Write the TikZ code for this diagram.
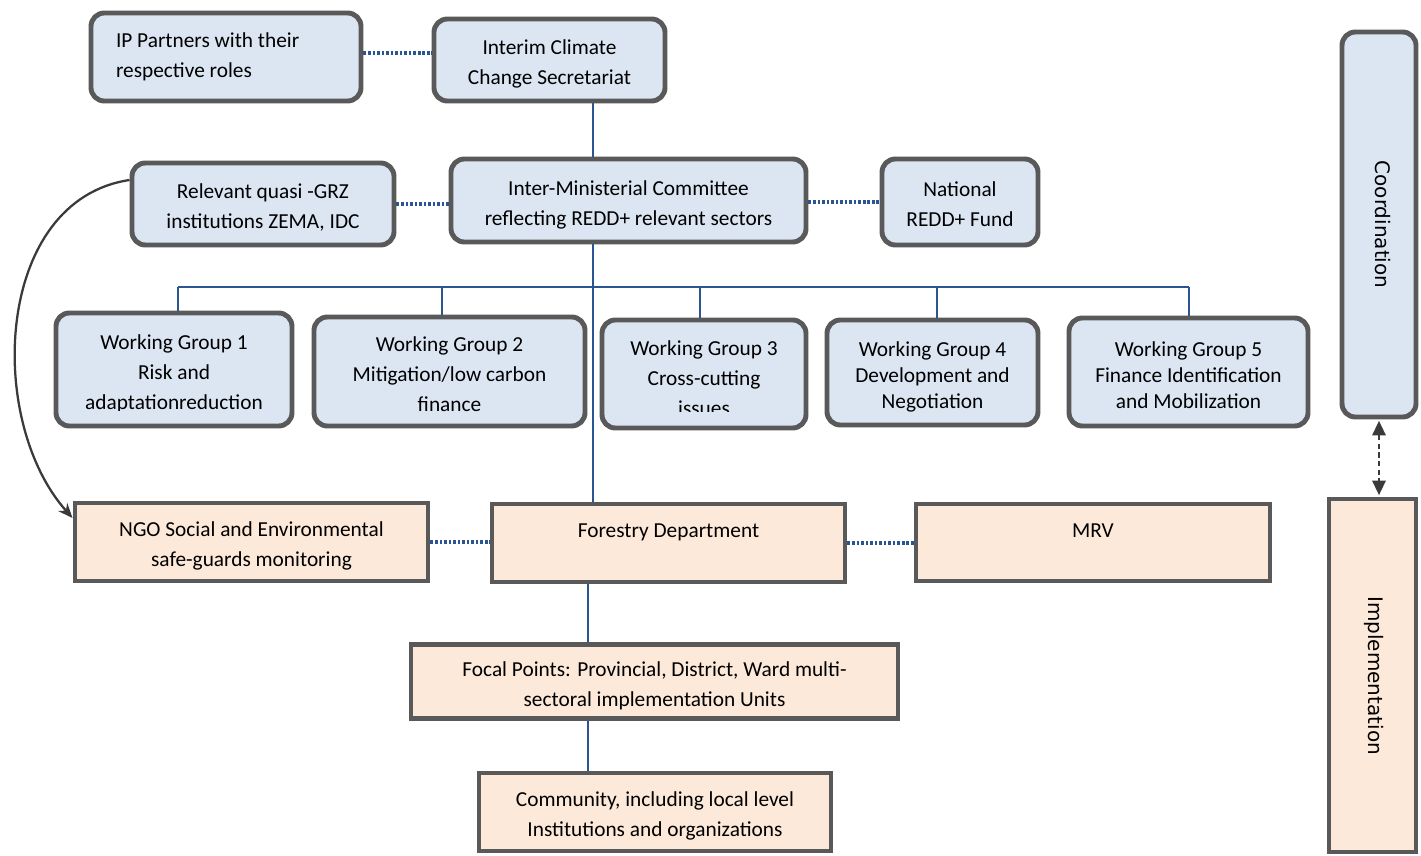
\documentclass[tikz,border=0pt]{standalone}
\usepackage{fontspec}
\setmainfont{Carlito}
\newfontfamily\sidefont{DejaVu Sans}
\usetikzlibrary{arrows.meta,calc}
\definecolor{bfill}{HTML}{DCE6F2}
\definecolor{pfill}{HTML}{FDE9D9}
\definecolor{bord}{HTML}{595959}
\definecolor{lblue}{HTML}{2A5590}
\definecolor{agray}{HTML}{3A3A3A}
\newcommand\topstrut{\rule{0pt}{21pt}}
\newcommand\botstrut{\rule[\dimexpr-0.3\baselineskip\relax]{0pt}{\dimexpr0.3\baselineskip\relax}}
\tikzset{
  txt/.style={align=center, inner sep=0pt, font=\fontsize{16}{22.5}\selectfont,
    execute at end node=\botstrut},
  bbox/.style={txt, draw=bord, line width=3.7pt, fill=bfill, rounded corners=10pt},
  pbox/.style={txt, draw=bord, line width=3.7pt, fill=pfill},
  conn/.style={draw=lblue, line width=2pt},
  dotc/.style={draw=lblue, line width=2.3pt, dash pattern=on 2pt off 1.4pt},
  curvearrow/.style={draw=agray, line width=1.7pt, -{Stealth[length=11pt,width=9pt]}},
  dasharrow/.style={draw=agray, line width=1.7pt, dash pattern=on 4pt off 2.5pt,
    {Triangle[length=11pt,width=10pt]}-{Triangle[length=11pt,width=10pt]}},
  sidetxt/.style={font=\sidefont\fontsize{15}{18}\selectfont, execute at end node={}}
}
\begin{document}
\begin{tikzpicture}[x=0.75pt,y=-0.75pt]
\useasboundingbox (0,0) rectangle (1421,856);

% top row
\node[bbox, minimum width=202.5pt, minimum height=66pt, text width=165pt, align=flush left, inner xsep=18.75pt, execute at begin node=\strut] (ip) at (226,57) {IP Partners with their\\respective roles};
\node[bbox, minimum width=173.25pt, minimum height=61.5pt] (interim) at (549.5,60) {\topstrut Interim Climate\\Change Secretariat};

% second row
\node[bbox, minimum width=196.5pt, minimum height=61.5pt] (quasi) at (263,204) {\topstrut Relevant quasi -GRZ\\institutions ZEMA, IDC};
\node[bbox, minimum width=266.25pt, minimum height=62.25pt] (imc) at (628.5,200.5) {\topstrut Inter-Ministerial Committee\\reflecting REDD+ relevant sectors};
\node[bbox, minimum width=117pt, minimum height=64.5pt] (national) at (960,202) {\topstrut National\\REDD+ Fund};

% working groups
\node[bbox, minimum width=177pt, minimum height=84.75pt] (wg1) at (174,369.5) {};
\node[bbox, minimum width=203.25pt, minimum height=81.75pt] (wg2) at (449.5,371.5) {};
\node[bbox, minimum width=153pt, minimum height=81pt] (wg3) at (704,374) {};
\begin{scope}
  \clip (57,314) rectangle (291,410);
  \node[txt] (wg1t) at (174,370) {\topstrut Working Group 1\\Risk and\\adaptationreduction};
\end{scope}
\begin{scope}
  \clip (315,318) rectangle (584,411);
  \node[txt] (wg2t) at (449.5,372) {\topstrut Working Group 2\\Mitigation/low carbon\\finance};
\end{scope}
\begin{scope}
  \clip (603,321) rectangle (805,411.5);
  \node[txt] (wg3t) at (704,376) {\topstrut Working Group 3\\Cross-cutting\\issues};
\end{scope}
\node[bbox, minimum width=158.25pt, minimum height=78.75pt, font=\fontsize{16}{19.5}\selectfont] (wg4) at (932.5,372.5) {\topstrut Working Group 4\\Development and\\Negotiation};
\node[bbox, minimum width=179.25pt, minimum height=81pt, font=\fontsize{16}{19.5}\selectfont] (wg5) at (1188.5,372) {\topstrut Working Group 5\\Finance Identification\\and Mobilization};

% implementation row
\node[pbox, minimum width=264.75pt, minimum height=58.5pt] (ngo) at (251.5,542) {\topstrut NGO Social and Environmental\\safe-guards monitoring};
\node[pbox, minimum width=264.75pt, minimum height=58.5pt] (forestry) at (668.5,543) {\topstrut Forestry Department\\[0pt]\mbox{}};
\node[pbox, minimum width=265.5pt, minimum height=57.75pt] (mrv) at (1093,542.5) {\topstrut MRV\\[0pt]\mbox{}};
\node[pbox, minimum width=365.25pt, minimum height=56pt] (focal) at (654.5,681.5) {\topstrut Focal Points: Provincial, District, Ward multi-\\sectoral implementation Units};
\node[pbox, minimum width=264pt, minimum height=58.5pt] (community) at (655,812) {\topstrut Community, including local level\\Institutions and organizations};

% side bars
\node[bbox, sidetxt, rotate=-90, minimum width=288.75pt, minimum height=55.5pt] (coord) at (1379,224.5) {Coordination};
\node[pbox, sidetxt, rotate=-90, minimum width=264.75pt, minimum height=65.25pt] (impl) at (1372.5,675.5) {Implementation};

% trunk and bus coordinates
\coordinate (trunk) at (593,0);
\coordinate (low) at (588,0);
\coordinate (d1) at (178,287);
\coordinate (d2) at (442,287);
\coordinate (d3) at (700,287);
\coordinate (d4) at (937,287);
\coordinate (d5) at (1189,287);

% solid connectors
\draw[conn] (interim.south -| trunk) -- (imc.north -| trunk);
\draw[conn] (imc.south -| trunk) -- (forestry.north -| trunk);
\draw[conn] (d1) -- (d5);
\draw[conn] (d1) -- (d1 |- wg1.north);
\draw[conn] (d2) -- (d2 |- wg2.north);
\draw[conn] (d3) -- (d3 |- wg3.north);
\draw[conn] (d4) -- (d4 |- wg4.north);
\draw[conn] (d5) -- (d5 |- wg5.north);
\draw[conn] (forestry.south -| low) -- (focal.north -| low);
\draw[conn] (focal.south -| low) -- (community.north -| low);

% dotted connectors
\coordinate (y1) at (0,53);
\draw[dotc] (ip.east |- y1) -- (interim.west |- y1);
\draw[dotc] (quasi.east) -- (quasi.east -| imc.west);
\draw[dotc] (imc.east |- national.west) -- (national.west);
\draw[dotc] (ngo.east) -- (ngo.east -| forestry.west);
\draw[dotc] (forestry.east) -- (forestry.east -| mrv.west);

% curved arrow
\draw[curvearrow] ($(quasi.west)+(0,-24)$) .. controls (-5,200) and (-15,420) .. ($(ngo.west)+(0,-24)$);

% coordination <-> implementation
\draw[dasharrow, shorten <=1pt, shorten >=1pt] (coord.east) -- (coord.east |- impl.west);
\end{tikzpicture}
\end{document}
